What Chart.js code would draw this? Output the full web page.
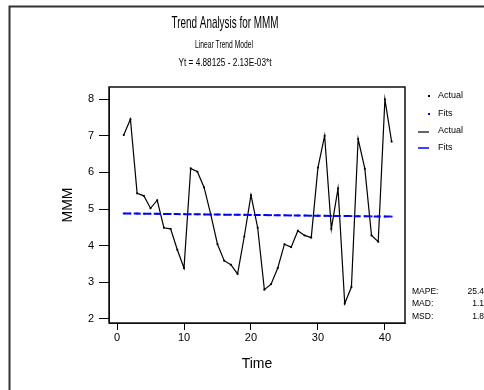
<!DOCTYPE html>
<html><head><meta charset="utf-8">
<script src="https://cdn.jsdelivr.net/npm/chart.js@4/dist/chart.umd.min.js"></script>
<style>html,body{margin:0;padding:0;background:#fff;}#wrap{width:484px;height:390px;position:relative;}canvas{display:block;}</style>
</head><body><div id="wrap"><canvas id="c" width="484" height="390"></canvas></div>
<script>
const timeIndex = [1,2,3,4,5,6,7,8,9,10,11,12,13,14,15,16,17,18,19,20,21,22,23,24,25,26,27,28,29,30,31,32,33,34,35,36,37,38,39,40,41];
const actualValues = [7.02,7.45,5.43,5.36,5.02,5.24,4.49,4.46,3.89,3.39,6.11,6.02,5.59,4.85,4.04,3.59,3.48,3.23,4.25,5.38,4.49,2.80,2.95,3.39,4.04,3.96,4.41,4.28,4.22,6.13,7.00,4.46,5.56,2.42,2.87,6.91,6.10,4.28,4.11,7.99,6.84];
const fitValues = [4.879,4.877,4.875,4.873,4.871,4.868,4.866,4.864,4.862,4.860,4.858,4.856,4.854,4.851,4.849,4.847,4.845,4.843,4.841,4.839,4.837,4.834,4.832,4.830,4.828,4.826,4.824,4.822,4.819,4.817,4.815,4.813,4.811,4.809,4.807,4.805,4.802,4.800,4.798,4.796,4.794];
const xTickValues = [0,10,20,30,40];
const yTickValues = [2,3,4,5,6,7,8];
const titleText = 'Trend Analysis for MMM';
const subtitleLines = ['Linear Trend Model', 'Yt = 4.88125 - 2.13E-03*t'];
const legendLabels = ['Actual', 'Fits', 'Actual', 'Fits'];
const accuracyLabels = ['MAPE:', 'MAD:', 'MSD:'];
const accuracyValues = ['25.4', '1.1', '1.8'];
const xAxisTitle = 'Time';
const yAxisTitle = 'MMM';

const FONT = '"Liberation Sans", Arial, sans-serif';
const BLUE = '#0000ff';

function fitText(ctx, text, cx, baseline, size, width) {
  ctx.save();
  ctx.font = size + 'px ' + FONT;
  const w = ctx.measureText(text).width;
  ctx.translate(cx, baseline);
  ctx.scale(width / w, 1);
  ctx.textAlign = 'center';
  ctx.textBaseline = 'alphabetic';
  ctx.fillStyle = '#000';
  ctx.fillText(text, 0, 0);
  ctx.restore();
}

const decor = {
  id: 'decor',
  beforeDraw(chart) {
    const ctx = chart.ctx;
    ctx.save();
    ctx.fillStyle = '#fff';
    ctx.fillRect(0, 0, chart.width, chart.height);
    ctx.strokeStyle = '#333';
    ctx.lineWidth = 2;
    ctx.beginPath();
    ctx.moveTo(9.5, chart.height);
    ctx.lineTo(9.5, 6.5);
    ctx.lineTo(chart.width, 6.5);
    ctx.stroke();
    ctx.restore();
  },
  afterDraw(chart) {
    const ctx = chart.ctx;
    const a = chart.chartArea;
    ctx.save();
    ctx.strokeStyle = '#111';
    ctx.lineWidth = 1.5;
    ctx.strokeRect(a.left, a.top, a.right - a.left, a.bottom - a.top);
    // header
    fitText(ctx, titleText, 225, 28, 17, 107);
    fitText(ctx, subtitleLines[0], 224, 47.5, 10, 58);
    fitText(ctx, subtitleLines[1], 225, 66, 10, 93);
    // legend
    ctx.font = '9px ' + FONT;
    ctx.textBaseline = 'middle';
    ctx.textAlign = 'left';
    ctx.fillStyle = '#000';
    ctx.fillRect(428, 95, 2, 2);
    ctx.fillText(legendLabels[0], 438, 96);
    ctx.fillStyle = BLUE;
    ctx.fillRect(428, 113, 2, 2);
    ctx.fillStyle = '#000';
    ctx.fillText(legendLabels[1], 438, 114);
    ctx.strokeStyle = '#000';
    ctx.lineWidth = 1.2;
    ctx.beginPath(); ctx.moveTo(418, 132); ctx.lineTo(429, 132); ctx.stroke();
    ctx.fillText(legendLabels[2], 438, 131);
    ctx.strokeStyle = BLUE;
    ctx.lineWidth = 1.5;
    ctx.beginPath(); ctx.moveTo(418, 148); ctx.lineTo(429, 148); ctx.stroke();
    ctx.fillText(legendLabels[3], 438, 148);
    // accuracy measures
    ctx.font = '8.5px ' + FONT;
    const ys = [292, 304, 317];
    for (let i = 0; i < accuracyLabels.length; i++) {
      ctx.textAlign = 'left';
      ctx.fillText(accuracyLabels[i], 412, ys[i]);
      ctx.textAlign = 'right';
      ctx.fillText(accuracyValues[i], 484, ys[i]);
    }
    ctx.restore();
  }
};

const actualPts = timeIndex.map((t, i) => ({x: t, y: actualValues[i]}));
const fitPts = timeIndex.map((t, i) => ({x: t, y: fitValues[i]}));

new Chart(document.getElementById('c'), {
  type: 'line',
  data: {
    datasets: [
      {label: 'Fits', data: fitPts, order: 0, borderColor: BLUE, backgroundColor: BLUE,
       borderWidth: 2, borderDash: [7, 3], pointStyle: 'rect', pointRadius: 1.3,
       pointBorderWidth: 0, tension: 0, fill: false},
      {label: 'Actual', data: actualPts, order: 1, borderColor: '#000', backgroundColor: '#000',
       borderWidth: 1.2, pointStyle: 'rect', pointRadius: 1.3, pointBorderWidth: 0,
       tension: 0, fill: false}
    ]
  },
  options: {
    responsive: false,
    animation: false,
    devicePixelRatio: 1,
    layout: {padding: {top: 87, right: 79, left: 0, bottom: 0}},
    plugins: {legend: {display: false}, title: {display: false}, tooltip: {enabled: false}},
    scales: {
      x: {
        type: 'linear', min: -1.2, max: 43,
        afterBuildTicks: s => { s.ticks = xTickValues.map(v => ({value: v})); },
        afterFit: s => { s.height = 67; },
        grid: {drawOnChartArea: false, drawTicks: true, tickLength: 7, color: '#000', lineWidth: 1},
        border: {display: true, color: '#000', width: 1},
        ticks: {color: '#000', font: {family: FONT, size: 11}, padding: 1, maxRotation: 0},
        title: {display: true, text: xAxisTitle, color: '#000', font: {family: FONT, size: 14}, padding: {top: 0, bottom: 17.6}}
      },
      y: {
        type: 'linear', min: 1.89, max: 8.33,
        afterBuildTicks: s => { s.ticks = yTickValues.map(v => ({value: v})); },
        afterFit: s => { s.width = 109; },
        grid: {drawOnChartArea: false, drawTicks: true, tickLength: 10, color: '#000', lineWidth: 1},
        border: {display: true, color: '#000', width: 1},
        ticks: {color: '#000', font: {family: FONT, size: 11}, padding: 5},
        title: {display: true, text: yAxisTitle, color: '#000', font: {family: FONT, size: 14}, padding: {top: 60, bottom: 0}}
      }
    }
  },
  plugins: [decor]
});
</script>
</body></html>
